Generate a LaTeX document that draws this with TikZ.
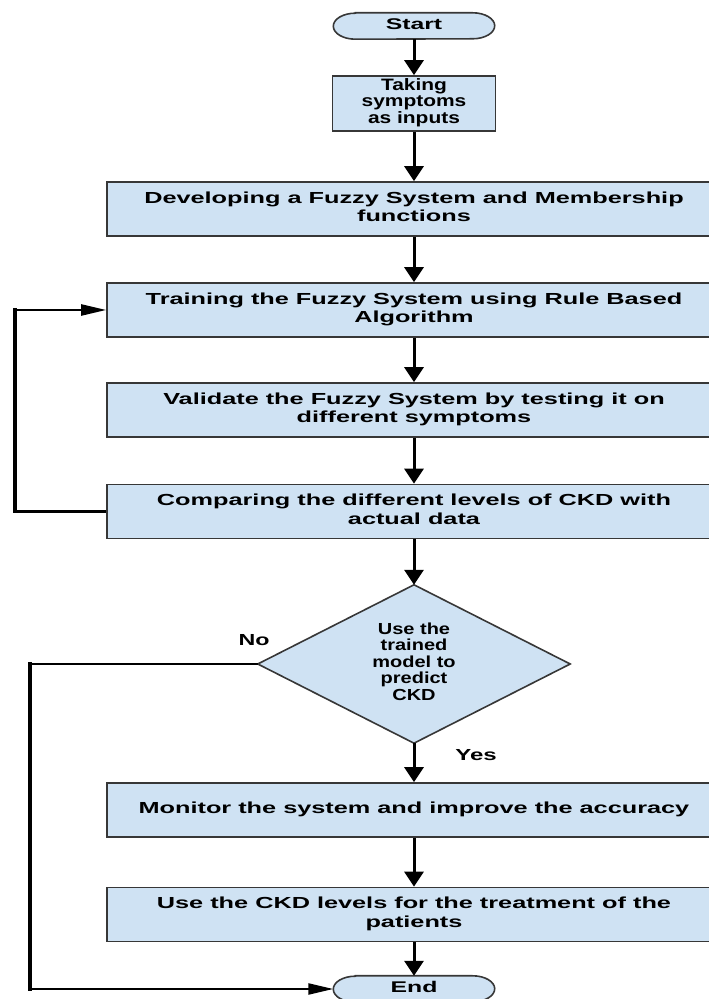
\documentclass[tikz,border=0pt]{standalone}
\usepackage{fontspec}
\setmainfont{Liberation Sans}
\usepackage{graphicx}
\usetikzlibrary{arrows.meta,backgrounds}
\definecolor{boxfill}{RGB}{207,226,243}
\definecolor{boxline}{RGB}{55,55,55}
\newcommand{\stretchtext}[4]{\scalebox{#1}[1]{\fontsize{#2}{#3}\selectfont\begin{tabular}{@{}c@{}}#4\end{tabular}}}
\begin{document}
\begin{tikzpicture}[x=1pt,y=1pt,
  proc/.style={draw=boxline, line width=1.6pt, fill=boxfill, minimum width=614pt, minimum height=54pt, inner sep=0pt, font=\bfseries},
  smallbox/.style={proc, minimum width=163pt, minimum height=55pt},
  termn/.style={inner sep=0pt, minimum width=161pt, minimum height=26pt, font=\bfseries},
  termline/.style={draw=boxline, line width=1.6pt, fill=boxfill},
  vflow/.style={line width=3pt, -{Triangle[width=19pt,length=15pt]}},
  hseg/.style={line width=2.3pt},
  vseg/.style={line width=3.6pt, line cap=rect},
  harrow/.style={line width=2.3pt, -{Triangle[width=11pt,length=25pt]}},
  lbl/.style={font=\bfseries, inner sep=0pt}]
\useasboundingbox (0,0) rectangle (709,999);
\clip (0,0) rectangle (709,999);

% terminals
\node[termn] (start) at (414,973) {\stretchtext{1.6}{15.5}{17}{Start}};
\node[termn] (endn) at (414,10) {\stretchtext{1.6}{15.5}{17}{End}};

% process boxes
\node[smallbox] (b1) at (414,895.5) {\stretchtext{1.27}{16.5}{15.8}{Taking\\symptoms\\as inputs}};
\node[proc] (b2) at (414,790) {\stretchtext{1.58}{16}{18.5}{Developing a Fuzzy System and Membership\\functions}};
\node[proc] (b3) at (414,689) {\stretchtext{1.58}{16}{18.5}{Training the Fuzzy System using Rule Based\\Algorithm}};
\node[proc] (b4) at (414,589) {\stretchtext{1.58}{16}{18.5}{Validate the Fuzzy System by testing it on\\different symptoms}};
\node[proc] (b5) at (414,487.5) {\stretchtext{1.58}{16}{18.5}{Comparing the different levels of CKD with\\actual data}};
\node[lbl, minimum width=312pt, minimum height=158pt] (dec) at (414,335) {\stretchtext{1.25}{16}{16.5}{Use the\\trained\\model to\\predict\\CKD}};
\node[proc] (mon) at (414,189) {\stretchtext{1.58}{16}{18.5}{Monitor the system and improve the accuracy}};
\node[proc] (use) at (414,84.5) {\stretchtext{1.58}{16}{18.5}{Use the CKD levels for the treatment of the\\patients}};

\begin{scope}[on background layer]
\draw[termline] ([xshift=22pt]start.north west) -- ([xshift=-22pt]start.north east)
  arc[start angle=90, end angle=-90, x radius=22pt, y radius=13pt]
  -- ([xshift=22pt]start.south west)
  arc[start angle=270, end angle=90, x radius=22pt, y radius=13pt] -- cycle;
\draw[termline] ([xshift=22pt]endn.north west) -- ([xshift=-22pt]endn.north east)
  arc[start angle=90, end angle=-90, x radius=22pt, y radius=13pt]
  -- ([xshift=22pt]endn.south west)
  arc[start angle=270, end angle=90, x radius=22pt, y radius=13pt] -- cycle;
\draw[termline] (dec.north) -- (dec.east) -- (dec.south) -- (dec.west) -- cycle;
\end{scope}

% labels
\node[lbl] (no) at (254,357) {\stretchtext{1.45}{16}{17}{No}};
\node[lbl] (yes) at (476,242) {\stretchtext{1.5}{16}{17}{Yes}};

% main flow
\draw[vflow] (start.south) -- (b1.north);
\draw[vflow] (b1.south) -- (b2.north);
\draw[vflow] (b2.south) -- (b3.north);
\draw[vflow] (b3.south) -- (b4.north);
\draw[vflow] (b4.south) -- (b5.north);
\draw[vflow] (b5.south) -- (dec.north);
\draw[vflow] (dec.south) -- (mon.north);
\draw[vflow] (mon.south) -- (use.north);
\draw[vflow] (use.south) -- (endn.north);

% feedback loop
\coordinate (la) at (15,487.5);
\coordinate (lt) at (15,689);
\draw[hseg] (b5.west) -- (la);
\draw[vseg] (la) -- (lt);
\draw[harrow] (lt) -- (b3.west);

% No branch
\coordinate (na) at (30,335);
\coordinate (nb) at (30,10);
\draw[hseg] (dec.west) -- (na);
\draw[vseg] (na) -- (nb);
\draw[harrow] (nb) -- (endn.west);
\end{tikzpicture}
\end{document}
